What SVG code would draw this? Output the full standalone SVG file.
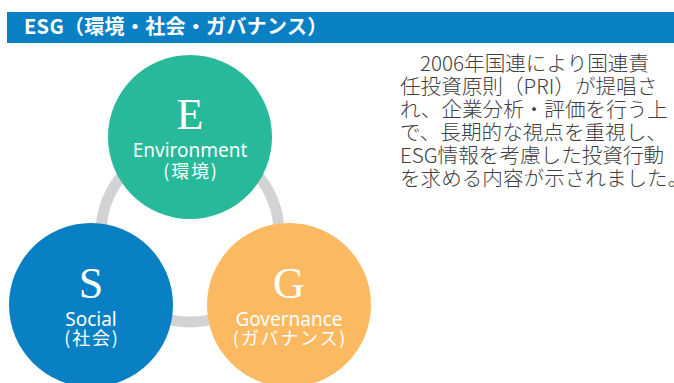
<svg xmlns="http://www.w3.org/2000/svg" width="674" height="383" viewBox="0 0 674 383">
<style>
.hdr{font-family:"Noto Sans CJK JP","Noto Sans",sans-serif;font-weight:bold;font-size:20px;fill:#fff;letter-spacing:0.3px}
.body{font-family:"Noto Sans CJK JP","Noto Sans",sans-serif;font-size:20.6px;font-weight:300;fill:#404040}
.big{font-family:"Liberation Serif","Noto Serif",serif;font-size:44px;fill:#fff;text-anchor:middle}
.lbl{font-family:"Noto Sans","Noto Sans CJK JP",sans-serif;font-size:19px;fill:#fff;text-anchor:middle}
.sub{font-family:"Noto Sans CJK JP",sans-serif;font-size:18px;fill:#fff;text-anchor:middle;letter-spacing:1.8px}
</style>
<rect width="674" height="383" fill="#fff"/>
<g id="header">
<rect x="7" y="12" width="667" height="31" fill="#0a80c4"/>
<text class="hdr" x="24" y="34">ESG（環境・社会・ガバナンス）</text>
</g>
<g id="connectors">
<circle cx="190" cy="233" r="89" fill="none" stroke="#d3d3d5" stroke-width="11"/>
</g>
<g id="node-E">
<circle cx="190" cy="137" r="82" fill="#27b99a"/>
<text class="big" x="190" y="129">E</text>
<text class="lbl" x="190" y="157">Environment</text>
<text class="sub" x="191" y="178">(環境)</text>
</g>
<g id="node-S">
<circle cx="91" cy="305" r="82" fill="#0a80c4"/>
<text class="big" x="91" y="298">S</text>
<text class="lbl" x="91" y="326">Social</text>
<text class="sub" x="92" y="345">(社会)</text>
</g>
<g id="node-G">
<circle cx="289" cy="305" r="82" fill="#fbba62"/>
<text class="big" x="289" y="298">G</text>
<text class="lbl" x="289" y="326">Governance</text>
<text class="sub" x="290" y="345">(ガバナンス)</text>
</g>
<g id="paragraph">
<text class="body" x="420" y="71">2006年国連により国連責</text>
<text class="body" x="400" y="94">任投資原則（PRI）が提唱さ</text>
<text class="body" x="400" y="117">れ、企業分析・評価を行う上</text>
<text class="body" x="400" y="140">で、長期的な視点を重視し、</text>
<text class="body" x="400" y="163">ESG情報を考慮した投資行動</text>
<text class="body" x="400" y="186">を求める内容が示されました。</text>
</g>
</svg>
